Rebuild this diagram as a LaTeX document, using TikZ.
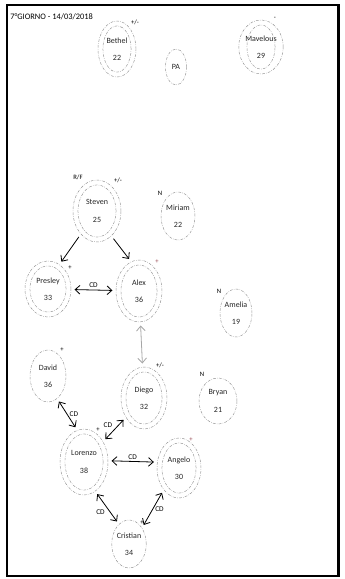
\documentclass[tikz,border=0pt]{standalone}
\usepackage{fontspec}
\setmainfont{Carlito}
\usetikzlibrary{shapes.geometric,arrows.meta,positioning}
\definecolor{markred}{RGB}{150,70,80}

\begin{document}
\begin{tikzpicture}[x=0.75pt, y=-0.75pt, font=\fontsize{6}{13}\selectfont,
    ring/.style={draw=gray!85, line width=0.35pt, dash pattern=on 2pt off 1pt on 0.4pt off 1pt},
    p/.style={ellipse, ring, inner sep=0pt, align=center, text=black!85},
    tag/.style={font=\fontsize{5}{5}\selectfont, inner sep=0pt},
    tip/.style={-{Straight Barb[length=3.6pt,width=6.5pt]}, line width=0.6pt, shorten <=2.5pt, shorten >=2.5pt},
    rel/.style={{Straight Barb[length=3.6pt,width=6.5pt]}-{Straight Barb[length=3.6pt,width=6.5pt]},
                line width=0.6pt, shorten <=2.5pt, shorten >=2.5pt},
    cd/.style={font=\fontsize{5.5}{5.5}\selectfont, inner sep=1.5pt}]
\useasboundingbox (0,0) rectangle (344,579);
\draw[line width=1.6pt] (7,5) rectangle (338.5,576);
\node[anchor=west, font=\fontsize{6.3}{7}\selectfont, inner sep=0pt] (title) at (10,17) {7°GIORNO - 14/03/2018};

% pupils with double ring
\foreach \id/\nm/\num/\px/\py/\w/\h in {bethel/Bethel/22/117/49/28.5/42,
    mavelous/Mavelous/29/261/47/28.5/40.5, steven/Steven/25/97/211/36/46.5,
    presley/Presley/33/48/289/34.5/42, alex/Alex/36/139/291/34.5/46.5,
    diego/Diego/32/144/398/34.5/46.5, lorenzo/Lorenzo/38/84/462/36/49.5,
    angelo/Angelo/30/179/468/33/45} {
  \node[p, minimum width=\w pt, minimum height=\h pt] (\id) at (\px,\py) {\nm\\\num};
  \draw[ring] (\id.center) ellipse [x radius={0.5*\w pt-3.7pt}, y radius={0.5*\h pt-3.7pt}];
}
% pupils with single ring
\foreach \id/\nm/\num/\px/\py/\w/\h in {miriam/Miriam/22/178/216/25.5/36,
    amelia/Amelia/19/236/313/24/36, david/David/36/48/376/27/39,
    bryan/Bryan/21/218/401/28.5/34.5, cristian/Cristian/34/129/544/25.5/36} {
  \node[p, minimum width=\w pt, minimum height=\h pt] (\id) at (\px,\py) {\nm\\\num};
}
\node[p, minimum width=15.75pt, minimum height=27pt] (pa) at (176,67) {PA};

% marks
\foreach \id/\t/\px/\py in {bethelm/+\slash-/135/22, mavelousm/-/275/18, stevenr/R\slash F/78/177,
    stevenm/+\slash-/118/180, miriamm/N/160/193, presleym/+/70/268, ameliam/N/219/291,
    davidm/+/62/350, diegom/+\slash-/160/365, bryanm/N/202/374, lorenzom/+/98/430,
    cristianm/+/142/523} {
  \node[tag] (\id) at (\px,\py) {\t};
}
\node[tag, text=markred] (alexm) at (157,262) {+};
\node[tag, text=markred] (angelom) at (191,440) {+};

\draw[tip] (steven.-125) -- (presley.65);
\draw[tip] (steven.-60) -- (alex.105);
\draw[rel] (presley) -- node[cd, above]{CD} (alex);
\draw[rel, gray!70] (alex) -- (diego);
\draw[rel] (david.-68) -- node[cd, right]{CD} (lorenzo.102);
\draw[rel] (lorenzo) -- node[cd, above left]{CD} (diego);
\draw[rel] (lorenzo.3) -- node[cd, above]{CD} (angelo.165);
\draw[rel] (lorenzo.-69) -- node[cd, below left]{CD} (cristian.117);
\draw[rel] (angelo.-125) -- node[cd, right]{CD} (cristian.51);
\end{tikzpicture}
\end{document}
